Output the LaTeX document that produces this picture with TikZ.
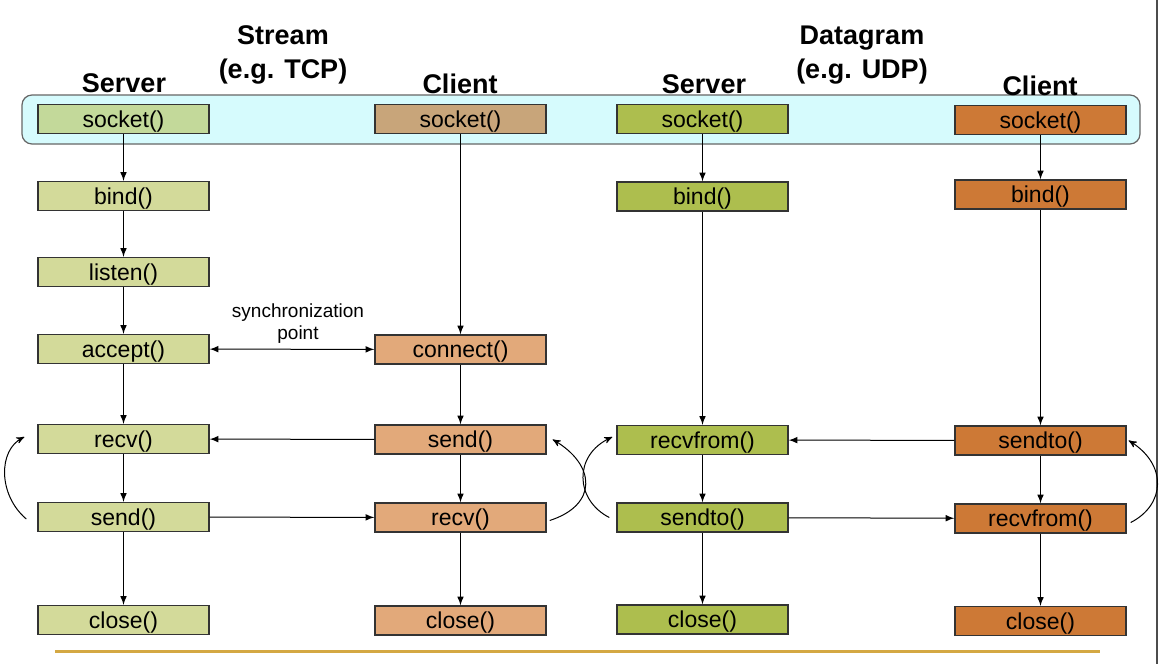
\documentclass[tikz,border=0pt]{standalone}
\usepackage{fontspec}
\setmainfont{Liberation Sans}
\usetikzlibrary{arrows}

\definecolor{tsockcol}{HTML}{C3D99A}
\definecolor{tboxcol}{HTML}{D3DA9A}
\definecolor{csockcol}{HTML}{C8A57A}
\definecolor{cboxcol}{HTML}{E2A97A}
\definecolor{usboxcol}{HTML}{ADBE4E}
\definecolor{ucboxcol}{HTML}{CD7936}
\definecolor{bandcol}{HTML}{D6FBFD}
\definecolor{goldcol}{HTML}{D4A843}

\tikzset{
  call/.style={draw=black!80, line width=0.7pt, minimum width=85.5pt, minimum height=14.5pt,
    inner sep=0pt, text height=9.5pt, text depth=1.5pt, font=\fontsize{11.5}{13}\selectfont},
  head/.style={font=\fontsize{13.5}{17}\selectfont\bfseries, align=center},
  flow/.style={>=latex, ->, line width=0.5pt},
  loop/.style={>=stealth', ->, line width=0.5pt}
}

\begin{document}
\begin{tikzpicture}[x=0.5pt,y=-0.5pt]
\useasboundingbox (0,0) rectangle (1164,664);

\draw [fill=bandcol, draw=black!60, rounded corners=5pt, line width=0.6pt] (22,95) rectangle (1140,144);
\draw [black!70, line width=1pt] (1157,0) -- (1157,664);
\draw [goldcol, line width=1.5pt] (55,651) -- (1100,651);

% headings
\node[head] (stream) at (283,55) {Stream\\(e.g. TCP)};
\node[head] (dgram) at (862,55) {Datagram\\(e.g. UDP)};
\node[head] (tsHead) at (124,83) {Server};
\node[head] (tcHead) at (460,84) {Client};
\node[head] (usHead) at (704,84) {Server};
\node[head] (ucHead) at (1040,86) {Client};

% stream server
\node[call, fill=tsockcol] (tsSocket) at (123.5,119) {socket()};
\node[call, fill=tboxcol] (tsBind) at (123.5,196) {bind()};
\node[call, fill=tboxcol] (tsListen) at (123.5,272) {listen()};
\node[call, fill=tboxcol] (tsAccept) at (123.5,349) {accept()};
\node[call, fill=tboxcol] (tsRecv) at (123.5,439) {recv()};
\node[call, fill=tboxcol] (tsSend) at (123.5,517) {send()};
\node[call, fill=tboxcol] (tsClose) at (123.5,620) {close()};

% stream client
\node[call, fill=csockcol] (tcSocket) at (460.5,119) {socket()};
\node[call, fill=cboxcol] (tcConnect) at (460.5,349.5) {connect()};
\node[call, fill=cboxcol] (tcSend) at (460.5,439.5) {send()};
\node[call, fill=cboxcol] (tcRecv) at (460.5,517.5) {recv()};
\node[call, fill=cboxcol] (tcClose) at (460.5,620.5) {close()};

% datagram server
\node[call, fill=usboxcol] (usSocket) at (702.5,119) {socket()};
\node[call, fill=usboxcol] (usBind) at (702.5,196.5) {bind()};
\node[call, fill=usboxcol] (usRecv) at (702.5,440) {recvfrom()};
\node[call, fill=usboxcol] (usSend) at (702.5,517.5) {sendto()};
\node[call, fill=usboxcol] (usClose) at (702.5,619.5) {close()};

% datagram client
\node[call, fill=ucboxcol] (ucSocket) at (1040.5,120) {socket()};
\node[call, fill=ucboxcol] (ucBind) at (1040.5,194.5) {bind()};
\node[call, fill=ucboxcol] (ucSend) at (1040.5,440.5) {sendto()};
\node[call, fill=ucboxcol] (ucRecv) at (1040.5,518.5) {recvfrom()};
\node[call, fill=ucboxcol] (ucClose) at (1040.5,621) {close()};

\node[font=\fontsize{9.5}{11}\selectfont, align=center] (sync) at (298,324) {synchronization\\point};

% downward flow
\foreach \a/\b in {tsSocket/tsBind, tsBind/tsListen, tsListen/tsAccept, tsAccept/tsRecv, tsRecv/tsSend, tsSend/tsClose,
  tcSocket/tcConnect, tcConnect/tcSend, tcSend/tcRecv, tcRecv/tcClose,
  usSocket/usBind, usBind/usRecv, usRecv/usSend, usSend/usClose,
  ucSocket/ucBind, ucBind/ucSend, ucSend/ucRecv, ucRecv/ucClose}
  \draw[flow] (\a) -- (\b);

% messages
\draw[flow, <->] (tsAccept) -- (tcConnect);
\draw[flow] (tcSend) -- (tsRecv);
\draw[flow] (tsSend) -- (tcRecv);
\draw[flow] (ucSend) -- (usRecv);
\draw[flow] (usSend) -- (ucRecv);

% loops
\draw[loop] ([shift={(-11,2)}]tsSend.west) .. controls (-2,495) and (-2,450) .. ([shift={(-13,-2)}]tsRecv.west);
\draw[loop] ([shift={(3,3)}]tcRecv.east) .. controls (598,505) and (596,465) .. ([shift={(6,0)}]tcSend.east);
\draw[loop] ([shift={(-7,0)}]usSend.west) .. controls (575,500) and (573,455) .. ([shift={(-4,-3)}]usRecv.west);
\draw[loop] ([shift={(4,4)}]ucRecv.east) .. controls (1165,505) and (1168,465) .. ([shift={(2,0)}]ucSend.east);

\end{tikzpicture}
\end{document}
